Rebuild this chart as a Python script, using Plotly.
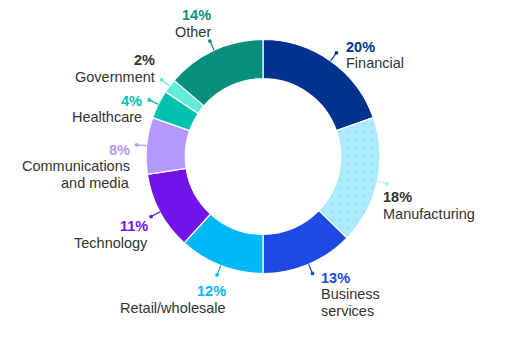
import math
import plotly.graph_objects as go

# Share of respondents by industry (percent)
industries = ["Financial", "Manufacturing", "Business services", "Retail/wholesale",
              "Technology", "Communications and media", "Healthcare", "Government", "Other"]
shares = [20, 18, 13, 12, 11, 8, 4, 2, 14]
label_lines = [["Financial"], ["Manufacturing"], ["Business", "services"], ["Retail/wholesale"],
               ["Technology"], ["Communications", "and media"], ["Healthcare"], ["Government"], ["Other"]]

slice_colors = ["#00338D", "#ACEAFF", "#1E49E2", "#00B8F5", "#7213EA",
                "#B497FF", "#00C0AE", "#63EBDA", "#098E7E"]
pct_colors = ["#00338D", "#333333", "#1E49E2", "#00B8F5", "#7213EA",
              "#B497FF", "#00C0AE", "#333333", "#098E7E"]

W, H = 514, 342
CX, CY, R = 263, 156.5, 117          # donut centre and outer radius in px
HOLE = 0.665
LEADER_END = 127
LINE_GAP = 16.6
FONT = "Liberation Sans, Arial, sans-serif"
TEXT_COLOR = "#333333"

# label anchor: x, y of first line (px), horizontal anchor
label_pos = [
    (345, 46.7, "left"),
    (382, 197, "left"),
    (320, 277.7, "left"),
    (227, 291, "right"),
    (148.5, 226, "right"),
    (130.5, 149.7, "right"),
    (142.5, 100.7, "right"),
    (155.5, 60, "right"),
    (211.5, 15, "right"),
]


def px(x, y):
    return x / W, 1 - y / H


# faint dot texture on the manufacturing slice only
pattern_shapes = ["", ".", "", "", "", "", "", "", ""]
pattern_fg = ["#9AD9EE" if s == "." else c for s, c in zip(pattern_shapes, slice_colors)]

fig = go.Figure()
fig.add_trace(go.Pie(
    labels=industries,
    values=shares,
    sort=False,
    direction="clockwise",
    rotation=0,
    hole=HOLE,
    textinfo="none",
    hoverinfo="label+value",
    showlegend=False,
    marker=dict(
        colors=slice_colors,
        line=dict(color="white", width=1.2),
        pattern=dict(
            shape=pattern_shapes,
            fgcolor=pattern_fg,
            bgcolor=slice_colors,
            fillmode="replace",
            size=8,
            solidity=0.05,
        ),
    ),
    domain=dict(x=[(CX - R) / W, (CX + R) / W],
                y=[1 - (CY + R) / H, 1 - (CY - R) / H]),
))

shapes = []
annotations = []
total = sum(shares)
cum = 0
for i, v in enumerate(shares):
    mid = (cum + v / 2) / total * 2 * math.pi
    cum += v
    sx, sy = CX + R * math.sin(mid), CY - R * math.cos(mid)
    ex, ey = CX + LEADER_END * math.sin(mid), CY - LEADER_END * math.cos(mid)
    x0, y0 = px(sx, sy)
    x1, y1 = px(ex, ey)
    shapes.append(dict(type="line", xref="paper", yref="paper", x0=x0, y0=y0, x1=x1, y1=y1,
                       line=dict(color=slice_colors[i], width=1.2)))
    d = 1.9
    a0 = px(ex - d, ey + d)
    a1 = px(ex + d, ey - d)
    shapes.append(dict(type="circle", xref="paper", yref="paper",
                       x0=a0[0], y0=a0[1], x1=a1[0], y1=a1[1],
                       fillcolor=slice_colors[i], line=dict(width=0)))

    lx, ly, anchor = label_pos[i]
    lines = [(f"<b>{v}%</b>", pct_colors[i])] + [(t, TEXT_COLOR) for t in label_lines[i]]
    for k, (txt, col) in enumerate(lines):
        ax, ay = px(lx, ly + k * LINE_GAP)
        annotations.append(dict(
            x=ax, y=ay, xref="paper", yref="paper", text=txt, showarrow=False,
            xanchor=anchor, yanchor="middle", borderpad=0,
            font=dict(family=FONT, size=14.5, color=col),
        ))

fig.update_layout(
    width=W, height=H,
    margin=dict(l=0, r=0, t=0, b=0),
    paper_bgcolor="white",
    plot_bgcolor="white",
    shapes=shapes,
    annotations=annotations,
)

fig.write_html("out.html")
